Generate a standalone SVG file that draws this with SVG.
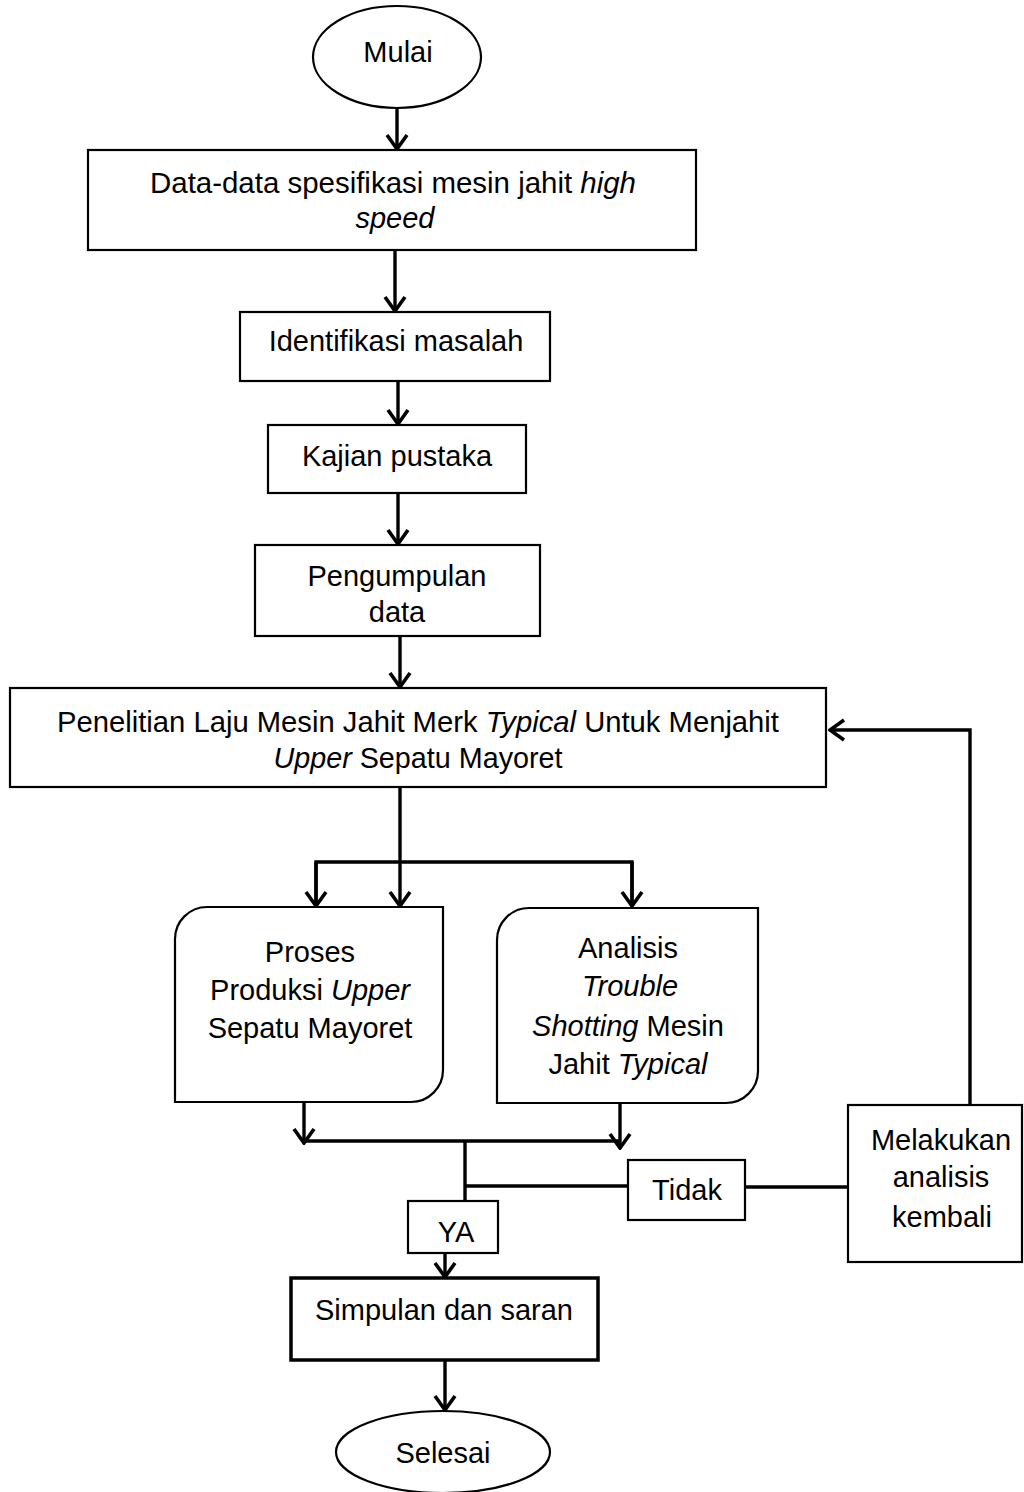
<svg xmlns="http://www.w3.org/2000/svg" width="1024" height="1492" viewBox="0 0 1024 1492">
<style>
.n{fill:#fff;stroke:#000;stroke-width:2.2}
.thick{stroke-width:3.5}
.t{font-family:"Liberation Sans",Arial,sans-serif;font-size:29px;fill:#000;text-anchor:middle}
.i{font-style:italic}
.c{fill:none;stroke:#000;stroke-width:3.4}
</style>
<defs>
<marker id="ah" viewBox="-18 -13 20 26" refX="0" refY="0" markerWidth="20" markerHeight="26" markerUnits="userSpaceOnUse" orient="auto">
<path d="M-14,-10 L0,0 L-14,10" fill="none" stroke="#000" stroke-width="3.6"/>
</marker>
</defs>
<rect width="1024" height="1492" fill="#fff"/>
<g id="connectors">
<line class="c" x1="397" y1="108" x2="397" y2="149" marker-end="url(#ah)"/>
<line class="c" x1="395" y1="250" x2="395" y2="311" marker-end="url(#ah)"/>
<line class="c" x1="398" y1="381" x2="398" y2="424" marker-end="url(#ah)"/>
<line class="c" x1="398" y1="493" x2="398" y2="544" marker-end="url(#ah)"/>
<line class="c" x1="400" y1="636" x2="400" y2="687" marker-end="url(#ah)"/>
<line class="c" x1="400" y1="770" x2="400" y2="906" marker-end="url(#ah)"/>
<polyline class="c" points="316,906 316,862 632,862 632,906"/>
<line class="c" x1="316" y1="862" x2="316" y2="906" marker-end="url(#ah)"/>
<line class="c" x1="632" y1="862" x2="632" y2="906" marker-end="url(#ah)"/>
<polyline class="c" points="970,1105 970,730 830,730" marker-end="url(#ah)"/>
<line class="c" x1="304" y1="1102" x2="304" y2="1143" marker-end="url(#ah)"/>
<line class="c" x1="302" y1="1141" x2="620" y2="1141"/>
<line class="c" x1="620" y1="1103" x2="620" y2="1148" marker-end="url(#ah)"/>
<line class="c" x1="465" y1="1141" x2="465" y2="1201"/>
<line class="c" x1="465" y1="1186" x2="628" y2="1186"/>
<line class="c" x1="745" y1="1187" x2="848" y2="1187"/>
<line class="c" x1="445" y1="1246" x2="445" y2="1277" marker-end="url(#ah)"/>
<line class="c" x1="445" y1="1360" x2="445" y2="1410" marker-end="url(#ah)"/>
</g>
<g id="mulai">
<ellipse class="n" cx="397" cy="57" rx="84" ry="51"/>
<text class="t" x="398" y="62">Mulai</text>
</g>
<g id="data">
<rect class="n" x="88" y="150" width="608" height="100"/>
<text class="t" x="393" y="193" textLength="486" lengthAdjust="spacingAndGlyphs">Data-data spesifikasi mesin jahit <tspan class="i">high</tspan></text>
<text class="t i" x="395" y="228">speed</text>
</g>
<g id="identifikasi">
<rect class="n" x="240" y="312" width="310" height="69"/>
<text class="t" x="396" y="351">Identifikasi masalah</text>
</g>
<g id="kajian">
<rect class="n" x="268" y="425" width="258" height="68"/>
<text class="t" x="397" y="466">Kajian pustaka</text>
</g>
<g id="pengumpulan">
<rect class="n" x="255" y="545" width="285" height="91"/>
<text class="t" x="397" y="586">Pengumpulan</text>
<text class="t" x="397" y="622">data</text>
</g>
<g id="penelitian">
<rect class="n" x="10" y="688" width="816" height="99"/>
<text class="t" x="418" y="732" textLength="722" lengthAdjust="spacingAndGlyphs">Penelitian  Laju Mesin  Jahit  Merk  <tspan class="i">Typical</tspan> Untuk  Menjahit</text>
<text class="t" x="418" y="768" textLength="289" lengthAdjust="spacingAndGlyphs"><tspan class="i">Upper</tspan> Sepatu  Mayoret</text>
</g>
<g id="proses">
<path class="n" d="M207,907 L443,907 L443,1070 A32,32 0 0 1 411,1102 L175,1102 L175,939 A32,32 0 0 1 207,907 Z"/>
<text class="t" x="310" y="962">Proses</text>
<text class="t" x="310" y="1000">Produksi <tspan class="i">Upper</tspan></text>
<text class="t" x="310" y="1038">Sepatu Mayoret</text>
</g>
<g id="analisis">
<path class="n" d="M529,908 L758,908 L758,1071 A32,32 0 0 1 726,1103 L497,1103 L497,940 A32,32 0 0 1 529,908 Z"/>
<text class="t" x="628" y="958">Analisis</text>
<text class="t i" x="630" y="996">Trouble</text>
<text class="t" x="628" y="1036"><tspan class="i">Shotting</tspan> Mesin</text>
<text class="t" x="628" y="1074">Jahit <tspan class="i">Typical</tspan></text>
</g>
<g id="tidak">
<rect class="n" x="628" y="1160" width="117" height="60"/>
<text class="t" x="687" y="1200">Tidak</text>
</g>
<g id="melakukan">
<rect class="n" x="848" y="1105" width="174" height="157"/>
<text class="t" x="941" y="1150">Melakukan</text>
<text class="t" x="941" y="1187">analisis</text>
<text class="t" x="942" y="1227">kembali</text>
</g>
<g id="ya">
<rect class="n" x="408" y="1201" width="90" height="52"/>
<text class="t" x="456" y="1242">YA</text>
</g>
<g id="simpulan">
<rect class="n thick" x="291" y="1278" width="307" height="82"/>
<text class="t" x="444" y="1320">Simpulan dan saran</text>
</g>
<g id="selesai">
<ellipse class="n" cx="443" cy="1452" rx="107" ry="41"/>
<text class="t" x="443" y="1463">Selesai</text>
</g>
</svg>
